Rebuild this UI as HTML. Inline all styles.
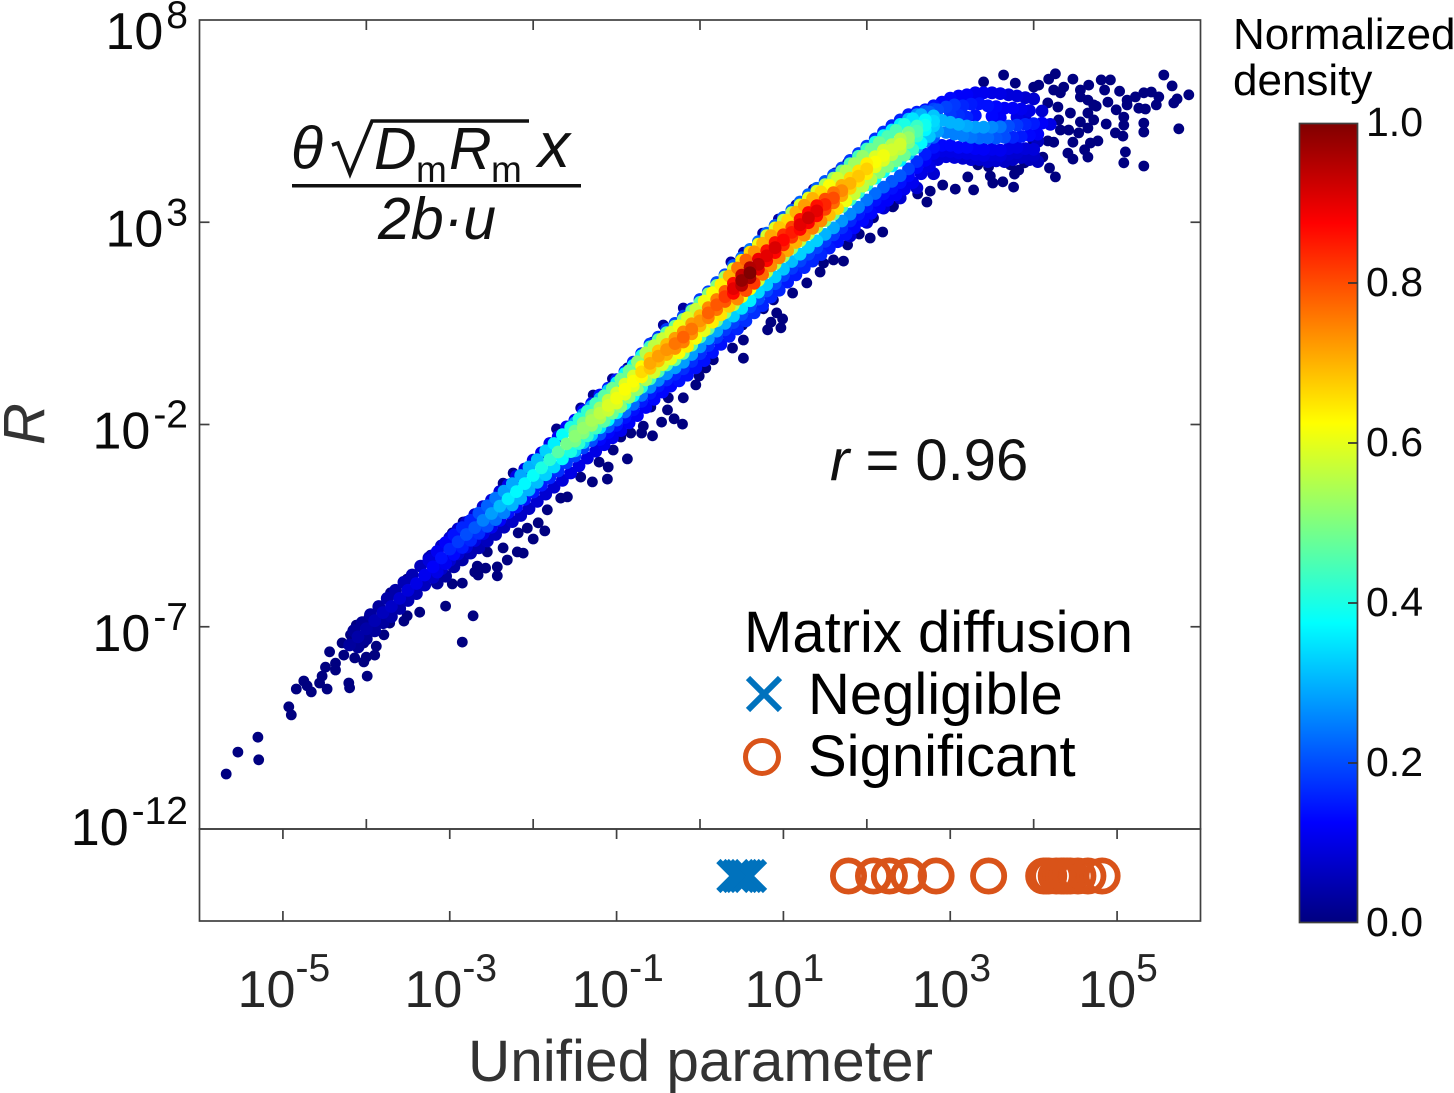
<!DOCTYPE html>
<html lang="en">
<head>
<meta charset="utf-8">
<title>R versus unified parameter</title>
<style>
html,body{margin:0;padding:0;background:#fff;}
svg{display:block;font-family:"Liberation Sans",Arial,sans-serif;}
</style>
</head>
<body>
<svg id="chart" xmlns="http://www.w3.org/2000/svg" width="1454" height="1093" viewBox="0 0 1454 1093">
  <defs>
    <linearGradient id="jet-gradient" x1="0" y1="0" x2="0" y2="1">
      <stop offset="0" stop-color="#800000"/>
      <stop offset="0.125" stop-color="#ff0000"/>
      <stop offset="0.375" stop-color="#ffff00"/>
      <stop offset="0.625" stop-color="#00ffff"/>
      <stop offset="0.875" stop-color="#0000ff"/>
      <stop offset="1" stop-color="#000080"/>
    </linearGradient>
  </defs>
  <rect x="0" y="0" width="1454" height="1093" fill="#fff"/>
  <g id="points"></g>
  <g id="strip"></g>
  <g id="frames" fill="none" stroke="#404040" stroke-width="1.7">
    <rect x="199.5" y="20" width="1001" height="809"/>
    <rect x="199.5" y="829" width="1001" height="92"/>
  </g>
  <g id="ticks" stroke="#404040" stroke-width="1.7"></g>
  <g id="tick-labels"></g>

  <text x="468" y="1081" font-size="58.5" fill="#333">Unified parameter</text>
  <text x="44" y="424" font-size="58" font-style="italic" fill="#333" text-anchor="middle" transform="rotate(-90 44 424)">R</text>

  <g fill="#111" font-size="59" font-style="italic">
    <text x="291" y="168">θ</text>
    <path d="M332,145 L338,143 L350,174 L372,121 L529,121" fill="none" stroke="#111" stroke-width="3.6"/>
    <text x="374" y="169">D</text>
    <text x="416" y="182" font-size="37" font-style="normal">m</text>
    <text x="449" y="169">R</text>
    <text x="491" y="182" font-size="37" font-style="normal">m</text>
    <text x="538" y="167" font-size="64">x</text>
    <rect x="292" y="184" width="289" height="3.5" fill="#111"/>
    <text x="378" y="239">2b·u</text>
  </g>

  <text x="830" y="480" font-size="58" fill="#111"><tspan font-style="italic">r</tspan> = 0.96</text>

  <g fill="#000" font-size="58">
    <text x="744" y="652">Matrix diffusion</text>
    <g stroke="#0072BD" stroke-width="6">
      <line x1="748" y1="678" x2="780" y2="710"/>
      <line x1="780" y1="678" x2="748" y2="710"/>
    </g>
    <text x="808" y="714">Negligible</text>
    <circle cx="762" cy="757" r="16.5" fill="none" stroke="#D95319" stroke-width="5"/>
    <text x="808" y="776">Significant</text>
  </g>

  <g>
    <rect x="1299.5" y="123.5" width="58" height="799" fill="url(#jet-gradient)" stroke="#404040" stroke-width="1.7"/>
    <g id="colorbar-ticks"></g>
    <text x="1233" y="49" font-size="44" fill="#000">Normalized</text>
    <text x="1233" y="95" font-size="44" fill="#000">density</text>
  </g>
</svg>

<script>
// All positions below are log10 values on the axes; densities are percent of the colour scale.

// Axis tick exponents and colour bar labels
const yTickExps = [3, -2, -7];
const yLabelExps = [8, 3, -2, -7, -12];
const xLabelExps = [-5, -3, -1, 1, 3, 5];
const mainTickExps = [-4, -2, 0, 2, 4];
const colorbarTicks = ["0.0", "0.2", "0.4", "0.6", "0.8", "1.0"];

// Matrix-diffusion strip (log10 of unified parameter)
const negligibleX = [0.40, 0.46, 0.50, 0.55, 0.60];
const significantX = [1.78, 2.08, 2.27, 2.50, 2.83, 3.46, 4.12, 4.15, 4.18, 4.27, 4.33, 4.36, 4.40, 4.44, 4.53, 4.65, 4.82];

// Dense band cross-sections, sampled along the ridge
const bandX = [-3.2,-3.1,-3.0,-2.9,-2.8,-2.7,-2.6,-2.5,-2.4,-2.3,-2.2,-2.1,-2.0,-1.9,-1.8,-1.7,-1.6,-1.5,-1.4,-1.3,-1.2,-1.1,-1.0,-0.9,-0.8,-0.7,-0.6,-0.5,-0.4,-0.3,-0.2,-0.1,0,0.1,0.2,0.3,0.4,0.5,0.6,0.7,0.8,0.9,1.0,1.1,1.2,1.3,1.4,1.5,1.6,1.7,1.8,1.9,2.0,2.1,2.2,2.3,2.4,2.5,2.6,2.7,2.8,2.9,3.0,3.1,3.2,3.3,3.4,3.5,3.6,3.7,3.8,3.9,4.0];
const bandLeftX = [-3.25,-3.15,-3.05,-2.95,-2.85,-2.75,-2.65,-2.55,-2.45,-2.35,-2.25,-2.15,-2.05,-1.95,-1.85,-1.75,-1.65,-1.55,-1.45,-1.35,-1.25,-1.15,-1.05,-0.95,-0.85,-0.75,-0.65,-0.55,-0.45,-0.35,-0.25,-0.15,-0.05,0.05,0.15,0.25,0.35,0.45,0.55,0.65,0.75,0.85,0.95,1.05,1.15,1.25,1.35,1.45,1.55,1.65,1.75,1.85,1.95,2.05,2.15,2.25,2.35,2.45,2.55,2.65,2.75,2.85,2.95,3.05,3.15,3.25,3.35,3.45,3.55,3.65,3.75,3.85,3.95];
const bandRightX = [-3.15,-3.05,-2.95,-2.85,-2.75,-2.65,-2.55,-2.45,-2.35,-2.25,-2.15,-2.05,-1.95,-1.85,-1.75,-1.65,-1.55,-1.45,-1.35,-1.25,-1.15,-1.05,-0.95,-0.85,-0.75,-0.65,-0.55,-0.45,-0.35,-0.25,-0.15,-0.05,0.05,0.15,0.25,0.35,0.45,0.55,0.65,0.75,0.85,0.95,1.05,1.15,1.25,1.35,1.45,1.55,1.65,1.75,1.85,1.95,2.05,2.15,2.25,2.35,2.45,2.55,2.65,2.75,2.85,2.95,3.05,3.15,3.25,3.35,3.45,3.55,3.65,3.75,3.85,3.95,4.05];

const ridgeY = [-5.52,-5.30,-5.08,-4.90,-4.72,-4.55,-4.37,-4.20,-4.02,-3.84,-3.66,-3.46,-3.26,-3.07,-2.87,-2.68,-2.48,-2.29,-2.09,-1.90,-1.72,-1.53,-1.35,-1.13,-.93,-.70,-.49,-.31,-.15,0,.16,.36,.56,.76,.96,1.16,1.36,1.56,1.75,1.96,2.17,2.37,2.56,2.75,2.94,3.11,3.28,3.44,3.60,3.78,3.96,4.14,4.32,4.49,4.65,4.79,4.93,5.09,5.25,5.40,5.50,5.52,5.47,5.42,5.38,5.35,5.35,5.35,5.36,5.38,5.40,5.42,5.44];
const ridgeD = [12,14,16,18,20,21,25,28,31,36,37,37,38,40,42,46,49,51,52,54,56,59,61,62,62,66,71,72,73,76,78,76,73,78,79,82,90,98,100,94,90,91,87,85,90,92,90,84,80,74,70,68,67,62,61,58,58,52,45,39,34,30,30,30,29,28,28,26,24,20,18,16,15];

const upperEdgeY = [-5.24,-5.00,-4.80,-4.58,-4.42,-4.23,-4.03,-3.87,-3.66,-3.50,-3.28,-3.10,-2.88,-2.70,-2.47,-2.30,-2.06,-1.89,-1.66,-1.48,-1.27,-1.10,-.89,-.69,-.46,-.25,-.01,.16,.35,.50,.68,.86,1.09,1.28,1.51,1.70,1.93,2.12,2.33,2.52,2.73,2.92,3.12,3.30,3.50,3.68,3.84,4.01,4.17,4.34,4.53,4.70,4.88,5.06,5.23,5.39,5.53,5.66,5.72,5.78,5.88,5.97,6.07,6.12,6.15,6.20,6.20,6.20,6.18,6.15,6.12,6.08,6.05];
const upperEdgeD = [7,7,8,8,8,8,8,9,9,10,10,10,10,11,11,12,13,13,13,14,14,15,15,16,16,17,18,18,18,19,19,19,18,19,20,20,22,23,24,23,22,22,21,21,22,22,22,21,20,19,18,18,18,17,17,16,16,15,15,14,14,13,13,12,12,11,11,10,10,9,9,8,8];

const upperMidY = [-5.36,-5.14,-4.92,-4.73,-4.55,-4.37,-4.19,-4.01,-3.82,-3.65,-3.46,-3.26,-3.05,-2.87,-2.65,-2.47,-2.25,-2.07,-1.86,-1.67,-1.48,-1.29,-1.10,-.88,-.67,-.45,-.23,-.05,.12,.28,.44,.64,.85,1.05,1.26,1.46,1.67,1.87,2.07,2.27,2.48,2.67,2.87,3.05,3.25,3.42,3.59,3.75,3.91,4.09,4.27,4.45,4.63,4.80,4.97,5.12,5.27,5.42,5.56,5.66,5.72,5.78,5.85,5.90,5.88,5.92,5.93,5.88,5.86,5.82,5.82,5.80,5.76];
const upperMidD = [9,11,12,14,16,16,20,22,24,28,29,29,30,31,33,36,38,40,41,42,44,46,48,48,48,51,55,56,57,59,61,59,57,61,62,64,70,76,78,73,70,71,68,66,70,72,70,66,62,58,55,53,52,48,48,45,45,40,35,30,22,20,19,18,16,15,14,14,13,12,12,11,10];

const lowerMidY = [-5.65,-5.44,-5.21,-5.04,-4.86,-4.69,-4.52,-4.35,-4.18,-3.99,-3.83,-3.62,-3.43,-3.24,-3.05,-2.85,-2.67,-2.47,-2.28,-2.09,-1.92,-1.72,-1.56,-1.33,-1.14,-.90,-.71,-.52,-.38,-.23,-.07,.13,.32,.53,.71,.92,1.10,1.31,1.49,1.71,1.92,2.12,2.30,2.50,2.68,2.85,3.03,3.18,3.34,3.53,3.70,3.89,4.06,4.23,4.38,4.52,4.66,4.80,4.96,5.12,5.25,5.22,5.18,5.14,5.10,5.08,5.09,5.08,5.10,5.10,5.12,5.15,5.18];
const lowerMidD = [10,11,13,15,16,17,20,23,25,30,30,30,31,33,34,38,40,42,43,44,46,48,50,51,51,54,58,59,60,62,64,62,60,64,65,67,74,80,82,77,74,75,71,70,74,75,74,69,66,61,57,56,55,51,50,48,48,43,37,32,28,25,25,25,24,23,23,21,20,16,15,13,12];

const lowerBlueY = [-5.78,-5.57,-5.36,-5.20,-5.03,-4.87,-4.70,-4.54,-4.37,-4.18,-4.04,-3.85,-3.67,-3.50,-3.32,-3.15,-2.95,-2.78,-2.58,-2.40,-2.24,-2.06,-1.89,-1.69,-1.50,-1.28,-1.08,-.91,-.75,-.60,-.46,-.27,-.08,.12,.31,.50,.68,.87,1.06,1.27,1.45,1.65,1.84,2.03,2.21,2.38,2.54,2.70,2.86,3.03,3.20,3.37,3.55,3.71,3.87,4.01,4.15,4.32,4.50,4.68,4.85,4.90,4.90,4.85,4.85,4.82,4.80,4.80,4.78,4.82,4.85,4.82,4.80];
const lowerBlueD = [7,7,8,8,9,9,10,11,12,14,14,14,15,15,16,17,18,19,19,20,20,21,22,23,23,24,26,26,27,28,28,28,27,28,29,30,33,35,36,34,33,33,32,31,33,33,33,30,29,27,26,25,24,23,22,21,21,19,17,15,14,13,13,13,13,12,12,11,11,10,10,9,9];

const lowerEdgeY = [-5.92,-5.75,-5.52,-5.35,-5.18,-5.05,-4.88,-4.72,-4.54,-4.40,-4.25,-4.08,-3.90,-3.72,-3.55,-3.38,-3.20,-3.02,-2.83,-2.66,-2.50,-2.33,-2.15,-1.96,-1.78,-1.58,-1.38,-1.20,-1.05,-.92,-.78,-.60,-.42,-.22,-.02,.18,.36,.56,.76,.94,1.15,1.32,1.52,1.70,1.88,2.04,2.20,2.36,2.52,2.70,2.86,3.04,3.22,3.38,3.54,3.68,3.82,3.98,4.20,4.38,4.55,4.62,4.60,4.58,4.55,4.55,4.50,4.52,4.50,4.55,4.60,4.55,4.50];
const lowerEdgeD = [3,3,4,4,5,5,6,6,6,7,7,7,8,8,8,9,10,10,10,10,11,11,11,12,12,12,13,13,13,14,14,14,14,14,14,15,16,17,17,16,16,16,15,15,16,16,16,15,14,14,13,13,13,12,12,12,11,11,10,10,9,9,9,8,8,8,8,8,7,7,7,6,6];

// Extra cross-sections where the density is high
const coreX = [-1.5,-1.4,-1.3,-1.2,-1.1,-1.0,-0.9,-0.8,-0.7,-0.6,-0.5,-0.4,-0.3,-0.2,-0.1,0,0.1,0.2,0.3,0.4,0.5,0.6,0.7,0.8,0.9,1.0,1.1,1.2,1.3,1.4,1.5,1.6,1.7,1.8,1.9,2.0,2.1,2.2,2.3,2.4,2.5,2.6,2.7,2.8];
const coreAboveY = [-2.16,-1.96,-1.77,-1.59,-1.40,-1.22,-1.00,-.80,-.57,-.36,-.18,-.02,.13,.29,.49,.69,.89,1.09,1.29,1.49,1.69,1.88,2.09,2.30,2.50,2.69,2.88,3.07,3.24,3.41,3.57,3.73,3.91,4.09,4.27,4.45,4.62,4.78,4.92,5.06,5.22,5.38,5.53,5.63];
const coreAboveD = [48,49,51,53,56,58,59,59,63,67,68,69,72,74,72,69,74,75,78,86,93,95,89,86,86,83,81,86,87,86,80,76,70,66,65,64,59,58,55,55,49,43,37,32];
const haloAboveY = [-1.96,-1.75,-1.55,-1.36,-1.16,-.97,-.74,-.54,-.30,-.08,.10,.27,.43,.60,.81,1.02,1.23,1.44,1.65,1.85,2.06,2.26,2.46,2.67,2.86,3.05,3.24,3.43,3.60,3.77,3.93,4.09,4.27,4.45,4.63,4.81,4.98,5.14,5.28,5.42,5.55,5.66,5.74,5.80];
const haloAboveD = [28,29,30,31,33,36,37,37,40,44,46,46,48,50,48,46,50,50,53,59,64,66,61,58,59,56,55,59,60,59,54,52,48,45,44,43,40,39,36,36,31,26,21,19];
const coreBelowY = [-2.41,-2.21,-2.02,-1.84,-1.65,-1.47,-1.25,-1.05,-.82,-.61,-.43,-.27,-.12,.04,.24,.44,.64,.84,1.04,1.24,1.44,1.63,1.84,2.05,2.25,2.44,2.63,2.82,2.99,3.16,3.32,3.48,3.66,3.84,4.02,4.20,4.37,4.53,4.67,4.81,4.97,5.13,5.28,5.38];
const coreBelowD = [49,50,52,54,57,59,60,60,63,68,69,70,73,75,73,70,75,76,79,87,94,96,90,87,87,84,82,87,88,87,81,77,71,67,65,64,60,59,56,56,50,43,37,33];
const haloBelowY = [-2.65,-2.45,-2.26,-2.08,-1.89,-1.71,-1.49,-1.29,-1.08,-.87,-.69,-.53,-.40,-.24,-.04,.16,.36,.56,.76,.96,1.16,1.35,1.56,1.77,1.97,2.16,2.35,2.54,2.71,2.88,3.04,3.20,3.38,3.56,3.74,3.92,4.09,4.25,4.39,4.53,4.69,4.85,5.00,5.10];
const haloBelowD = [32,32,33,35,37,38,38,38,41,44,45,45,47,48,47,45,48,49,51,56,61,62,58,56,56,54,53,56,57,56,52,50,46,43,42,42,38,38,36,36,32,28,24,21];

// Blue fill under the band
const underX = [-1.2,-1.1,-1.0,-0.9,-0.8,-0.7,-0.6,-0.5,-0.4,-0.3,-0.2,-0.1,0,0.1,0.2,0.3,0.4,0.5,0.6,0.7,0.8,0.9,1.0,1.1,1.2,1.3,1.4,1.5,1.6,1.7,1.8,1.9,2.0,2.1,2.2,2.3,2.4,2.5,2.6,2.7,2.8,2.9,3.0,3.1,3.2,3.3,3.4,3.5,3.6,3.7,3.8,3.9,4.0];
const underY = [-2.37,-2.20,-2.02,-1.83,-1.64,-1.43,-1.23,-1.05,-.90,-.76,-.62,-.44,-.25,-.05,.15,.34,.52,.72,.91,1.10,1.30,1.48,1.68,1.86,2.04,2.21,2.37,2.53,2.69,2.86,3.03,3.20,3.38,3.54,3.70,3.84,3.98,4.15,4.35,4.53,4.70,4.76,4.75,4.72,4.70,4.68,4.65,4.66,4.64,4.68,4.72,4.68,4.65];
const underD = [13,13,14,14,14,15,15,15,16,16,17,17,17,17,18,18,19,20,20,20,20,20,19,18,19,19,19,18,18,17,16,15,15,14,14,14,14,13,13,12,11,10,10,10,10,10,10,9,9,8,8,7,7];

// Low end of the band and the fork at the high end
const tailX = [-4.2,-4.1,-4.0,-3.9,-3.8,-3.7,-3.6,-3.5,-3.4,-3.3,-4.15,-4.05,-3.95,-3.85,-3.75,-3.65,-3.55,-3.45,-3.35,-3.25,-4.1,-4.0,-3.9,-3.8,-3.7,-3.6,-3.5,-3.4,-3.3,-3.2,4.1,4.2,4.1,4.05,3.0,3.1,3.2,3.3,3.5,3.6,3.8,3.9,1.8,2.0,2.2,2.4,2.6,2.8];
const tailY = [-7.45,-7.25,-7.05,-6.85,-6.65,-6.50,-6.30,-6.10,-5.93,-5.72,-7.10,-6.90,-6.70,-6.50,-6.30,-6.10,-5.90,-5.72,-5.50,-5.30,-7.50,-7.30,-7.10,-6.90,-6.75,-6.55,-6.35,-6.18,-5.97,-5.77,5.45,5.42,5.75,5.00,5.66,5.65,5.60,5.64,5.62,5.58,5.60,5.65,2.66,3.00,3.35,3.60,3.85,4.20];
const tailD = [3,4,4,5,6,7,8,9,10,11,2,2,3,3,4,4,5,5,6,6,2,2,3,3,4,4,5,5,6,6,12,10,8,6,18,17,16,14,13,12,10,9,8,8,8,8,8,8];

// Single points sticking out of the band's upper edge
const edgeBumpX = [-2.24,-2.36,-1.72,-1.43,-1.28,-1.05,-.87,-.57,-.44,-.20,.37,.52,.75,.94,1.15,1.36,1.62,1.77,2.13,-2.84,-2.97,-3.23,-3.51,-3.71];
const edgeBumpY = [-3.20,-3.45,-2.11,-1.59,-1.27,-.87,-.60,.04,.46,.88,2.02,2.26,2.73,3.08,3.43,3.82,4.22,4.47,4.96,-4.41,-4.68,-5.23,-5.82,-6.16];
const edgeBumpD = [1,1,1,2,2,2,2,3,3,3,4,4,4,4,4,4,3,3,3,1,1,1,1,1];

// Scattered dark points: lower tail
const sparseTailX = [-5.68,-5.54,-5.30,-5.29,-4.93,-4.90,-4.84,-4.75,-4.66,-4.71,-4.56,-4.53,-4.47,-4.21,-4.20,-3.99,-4.49,-4.37,-4.44,-4.37,-4.29,-4.27,-4.19,-4.14,-4.17,-4.03,-3.90,-4.00,-4.12,-4.03,-4.03,-3.88,-3.79,-3.97,-3.91,-3.72,-3.55,-3.36,-3.51,-3.05,-2.72,-2.85];
const sparseTailY = [-10.64,-10.10,-9.73,-10.29,-8.98,-9.18,-8.54,-8.34,-8.61,-8.46,-8.39,-8.22,-8.54,-8.39,-8.51,-8.22,-8.00,-8.07,-7.62,-7.90,-7.40,-7.70,-7.20,-7.77,-7.40,-7.87,-7.70,-7.75,-6.96,-7.20,-7.40,-7.48,-7.20,-6.78,-7.00,-6.91,-6.86,-6.64,-6.73,-6.49,-6.73,-7.38];

// Scattered dark points: under the straight part of the band
const sparseMidX = [-2.85,-2.97,-2.66,-2.43,-2.70,-2.57,-2.43,-2.67,-2.31,-2.19,-2.12,-2.00,-2.18,-1.86,-2.07,-1.94,-2.36,-2.55,-1.83,-1.67,-1.59,-1.29,-1.11,-.87,-1.10,-1.21,-1.43,-1.04,-.57,-.83,-.95,-.70,-.68,-.46,-.21,-.31,-.39,-.20,-.38,-.59,-.05,-.01,.07,.16,.52,.39,.52,.81,.97,.99,.85,.92,.76,.88,.51];
const sparseMidY = [-5.92,-5.94,-5.72,-5.74,-5.65,-5.55,-5.52,-5.50,-5.35,-5.15,-5.18,-4.83,-4.68,-4.63,-4.56,-4.43,-5.05,-5.15,-4.11,-3.82,-3.79,-3.42,-3.35,-2.85,-3.05,-2.93,-3.30,-2.63,-2.28,-2.21,-2.31,-2.21,-2.04,-1.94,-1.99,-1.86,-1.64,-1.34,-1.34,-1.57,-1.02,-.80,-.60,-.40,-.36,-.11,.09,.34,.39,.61,.53,.76,.86,1.08,.46];

// Scattered dark points: under the bend
const sparseBendX = [1.11,1.28,1.44,1.72,1.60,1.48,1.77,2.04,2.19,1.91,2.08,2.32,2.72,2.61,2.76,3.06,3.28,3.21,2.91,2.31,3.76,3.51,3.63,3.48,3.77,3.82,3.46,3.33,3.72,3.69,3.89,3.88,4.11,3.96,4.19,4.26,4.47,4.41,4.65,4.61,4.47,4.77,4.68,4.24,4.17,3.99];
const sparseBendY = [1.25,1.50,1.77,2.04,2.07,1.99,2.44,2.61,2.76,2.71,3.11,3.40,3.50,3.70,3.77,3.82,3.80,4.12,3.92,3.38,3.87,3.97,4.00,4.14,4.19,4.29,4.37,4.42,4.42,4.59,4.47,4.71,4.61,4.81,4.34,4.12,4.56,4.71,4.61,4.79,4.98,5.01,4.96,4.98,5.01,5.03];

// Scattered dark points: far right plateau
const sparseFarX = [5.10,5.08,5.32,5.07,4.98,5.74,5.32,5.32,4.87,5.08,5.08,4.99,4.89,4.75,5.86,5.72,5.68,5.66,5.56,5.50,5.47,5.41,5.32,5.22,5.12,5.12,5.26,5.34,5.03,4.92,4.81,4.85,4.66,4.56,4.47,4.26,4.18,4.06,3.64,3.78,3.40,4.36,4.24,4.00,4.65,4.56,4.72,4.72,4.65,4.56,4.65,4.54,4.42,4.30,4.32,4.44,4.29,4.17,4.32];
const sparseFarY = [4.74,4.47,4.39,5.13,5.21,5.31,5.23,5.45,5.43,5.40,5.60,5.78,5.97,5.87,6.15,6.05,5.95,6.37,6.64,6.10,5.90,6.22,6.20,6.10,6.02,5.90,5.82,5.80,6.24,6.52,6.52,6.27,6.39,6.27,6.54,6.67,6.54,6.39,6.64,6.44,6.47,6.34,6.27,6.34,6.02,6.10,5.90,5.53,5.70,5.48,5.33,5.21,5.28,5.53,5.28,5.70,5.85,5.95,6.20];

const SVG_NS = "http://www.w3.org/2000/svg";
const xAxis = v => 199.5 + (v + 6) * 1001 / 12;
const yAxis = v => 829 - (v + 12) * 809 / 20;
const stripY = 876;
const bandRadius = 6.4;
const singleRadius = 5.4;
const clamp01 = v => Math.max(0, Math.min(1, v));
const colorAxis = p => {
  const t = p / 100;
  const r = clamp01(Math.min(4 * t - 1.5, -4 * t + 4.5));
  const g = clamp01(Math.min(4 * t - 0.5, -4 * t + 3.5));
  const b = clamp01(Math.min(4 * t + 0.5, -4 * t + 2.5));
  return "rgb(" + Math.round(r * 255) + "," + Math.round(g * 255) + "," + Math.round(b * 255) + ")";
};
const make = (tag, attrs, parent) => {
  const el = document.createElementNS(SVG_NS, tag);
  for (const k in attrs) el.setAttribute(k, attrs[k]);
  parent.appendChild(el);
  return el;
};

// Density scatter, low density first so that the ridge ends up on top
const bandLayers = [
  [bandX, ridgeY, ridgeD], [bandX, upperEdgeY, upperEdgeD], [bandLeftX, upperMidY, upperMidD],
  [bandRightX, lowerMidY, lowerMidD], [bandX, lowerBlueY, lowerBlueD], [bandRightX, lowerEdgeY, lowerEdgeD],
  [coreX, coreAboveY, coreAboveD], [coreX, haloAboveY, haloAboveD], [coreX, coreBelowY, coreBelowD], [coreX, haloBelowY, haloBelowD],
  [underX, underY, underD], [tailX, tailY, tailD]
];
const singleLayers = [
  [edgeBumpX, edgeBumpY, edgeBumpD],
  [sparseTailX, sparseTailY, null], [sparseMidX, sparseMidY, null], [sparseBendX, sparseBendY, null], [sparseFarX, sparseFarY, null]
];
const allPoints = [];
bandLayers.forEach(([xs, ys, ds]) => {
  xs.forEach((x, i) => allPoints.push({ x: x, y: ys[i], d: ds[i], r: bandRadius }));
});
singleLayers.forEach(([xs, ys, ds]) => {
  xs.forEach((x, i) => allPoints.push({ x: x, y: ys[i], d: ds ? ds[i] : 0, r: singleRadius }));
});
allPoints.sort((a, b) => a.d - b.d);
const pointsGroup = document.getElementById("points");
allPoints.forEach(p => {
  const dot = make("circle", { cx: xAxis(p.x).toFixed(1), cy: yAxis(p.y).toFixed(1), r: p.r, fill: colorAxis(p.d) }, pointsGroup);
  
  
});

// Strip markers
const stripGroup = document.getElementById("strip");
significantX.forEach(v => {
  const ring = make("circle", { cx: xAxis(v).toFixed(1), cy: stripY, r: 15.6, fill: "none", stroke: "#D95319", "stroke-width": 5.8 }, stripGroup);
  
  
});
negligibleX.forEach(v => {
  const cx = xAxis(v);
  const cross = make("path", { d: "M" + (cx - 15) + "," + (stripY - 15) + "L" + (cx + 15) + "," + (stripY + 15) + "M" + (cx + 15) + "," + (stripY - 15) + "L" + (cx - 15) + "," + (stripY + 15), fill: "none", stroke: "#0072BD", "stroke-width": 6 }, stripGroup);
  
  
});

// Ticks
const tickGroup = document.getElementById("ticks");
yTickExps.forEach(v => {
  const y = yAxis(v);
  const left = make("line", { x1: 199.5, x2: 209.5, y1: y, y2: y }, tickGroup);
  
  
  const right = make("line", { x1: 1190.5, x2: 1200.5, y1: y, y2: y }, tickGroup);
  
  
});
mainTickExps.forEach(v => {
  const x = xAxis(v);
  const top = make("line", { x1: x, x2: x, y1: 20, y2: 30 }, tickGroup);
  
  
  const bottom = make("line", { x1: x, x2: x, y1: 819, y2: 829 }, tickGroup);
  
  
});
xLabelExps.forEach(v => {
  const x = xAxis(v);
  const top = make("line", { x1: x, x2: x, y1: 829, y2: 839 }, tickGroup);
  
  
  const bottom = make("line", { x1: x, x2: x, y1: 911, y2: 921 }, tickGroup);
  
  
});

// Tick labels
const labelGroup = document.getElementById("tick-labels");
const addPowerLabel = (parent, x, y, exp, size, supSize, rise, gap, fill, anchor) => {
  const t = make("text", { x: x, y: y, "font-size": size, fill: fill, "text-anchor": anchor }, parent);
  const base = make("tspan", {}, t);
  base.textContent = "10";
  const sup = make("tspan", { dy: -rise, dx: gap, "font-size": supSize }, t);
  sup.textContent = String(exp);
  return t;
};
yLabelExps.forEach(v => {
  const label = addPowerLabel(labelGroup, 188, yAxis(v) + (v === 8 ? 29 : v === -12 ? 16 : 24), v, 52, 39, 21, 3, "#0a0a0a", "end");
  
  
});
xLabelExps.forEach(v => {
  const label = addPowerLabel(labelGroup, xAxis(v) + 1, 1007, v, 52, 39, 26, 0, "#262626", "middle");
  
  
});

// Colour bar ticks and labels
const cbGroup = document.getElementById("colorbar-ticks");
colorbarTicks.forEach((txt, i) => {
  const y = 923 - i * 800 / (colorbarTicks.length - 1);
  if (i > 0 && i < colorbarTicks.length - 1) {
    const tick = make("line", { x1: 1348, x2: 1357.5, y1: y, y2: y, stroke: "#333", "stroke-width": 1.7 }, cbGroup);
    
    
  }
  const label = make("text", { x: 1366, y: y + 13, "font-size": 41, fill: "#0a0a0a" }, cbGroup);
  label.textContent = txt;
  
  
});
</script>
</body>
</html>
